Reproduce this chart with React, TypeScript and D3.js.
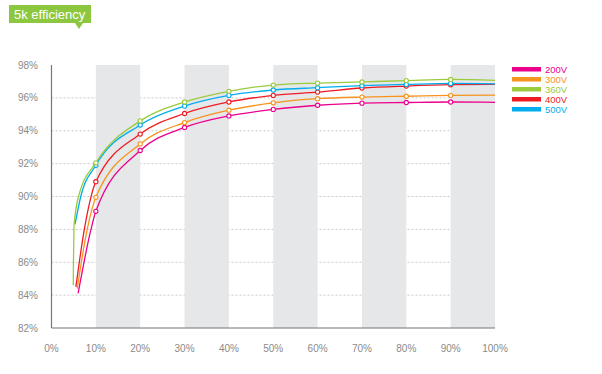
import React from 'react';
import * as d3 from 'd3';

// load (%) where the markers sit
const markerLoads = [10, 20, 30, 40, 50, 60, 70, 80, 90];
const yTicks = [82, 84, 86, 88, 90, 92, 94, 96, 98];
const xTicks = [0, 10, 20, 30, 40, 50, 60, 70, 80, 90, 100];
const bands = [10, 30, 50, 70, 90];

const names = ['200V', '300V', '360V', '400V', '500V'];
const colors = ['#ec008c', '#f7941d', '#9bcb3c', '#ed1c24', '#00aeef'];

// efficiency at the marker loads
const eff200 = [89.1, 92.8, 94.2, 94.9, 95.3, 95.55, 95.68, 95.72, 95.75];
const eff300 = [89.95, 93.2, 94.5, 95.25, 95.7, 95.95, 96.05, 96.1, 96.15];
const eff360 = [92.05, 94.6, 95.75, 96.4, 96.78, 96.9, 96.97, 97.05, 97.12];
const eff400 = [90.9, 93.8, 95.05, 95.75, 96.15, 96.35, 96.6, 96.72, 96.8];
const eff500 = [91.9, 94.35, 95.5, 96.15, 96.48, 96.62, 96.74, 96.82, 96.88];

// low-load part of each curve (unmarked) and value at 100%
const start200 = [[6.0, 84.1], [8.9, 88.0]];
const start300 = [[5.8, 84.4], [8.05, 88.0]];
const start360 = [[4.9, 84.6], [5.1, 88.3], [6.2, 90.1]];
const start400 = [[5.5, 84.5], [7.4, 88.0]];
const start500 = [[5.3, 88.3], [6.6, 90.0]];
const end100 = [95.73, 96.17, 97.07, 96.82, 96.85];

const effs = [eff200, eff300, eff360, eff400, eff500];
const starts = [start200, start300, start360, start400, start500];
const drawOrder = [0, 1, 3, 4, 2];

const W = 602;
const H = 374;
const margin = { top: 65, right: 107, bottom: 46, left: 51.5 };

export default function App() {
  const x = d3.scaleLinear().domain([0, 100]).range([margin.left, W - margin.right]);
  const y = d3.scaleLinear().domain([82, 98]).range([H - margin.bottom, margin.top]);

  const line = d3.line<number[]>()
    .x(d => x(d[0]))
    .y(d => y(d[1]))
    .curve(d3.curveMonotoneX);

  const series = names.map((name, i) => ({
    name,
    color: colors[i],
    pts: [
      ...starts[i],
      ...markerLoads.map((l, j) => [l, effs[i][j]]),
      [100, end100[i]],
    ],
    marks: markerLoads.map((l, j) => [l, effs[i][j]]),
  }));

  const font = '"Liberation Sans", Arial, sans-serif';

  return (
    <svg width={W} height={H} style={{ position: 'absolute', left: 0, top: 0 }} fontFamily={font}>
      <rect width={W} height={H} fill="#fff" />

      {/* title tag */}
      <rect x={9} y={5} width={82} height={18} fill="#8dc63f" />
      <path d="M75,23 L83,23 L79,29 Z" fill="#8dc63f" />
      <text x={14} y={19} fill="#fff" fontSize={13}>5k efficiency</text>

      {/* grid */}
      {yTicks.slice(1, -1).map(t => (
        <line key={t} x1={x(0)} x2={x(100)} y1={y(t)} y2={y(t)}
          stroke="#c8c8c8" strokeWidth={1} strokeDasharray="2,2" />
      ))}

      {bands.map(b => (
        <rect key={b} x={x(b)} y={y(98)} width={x(b + 10) - x(b)} height={y(82) - y(98)} fill="#e6e7e8" />
      ))}

      {/* axes */}
      <line x1={x(0)} x2={x(0)} y1={y(98)} y2={y(82)} stroke="#777" strokeWidth={1.2} />
      <line x1={x(0)} x2={x(100)} y1={y(82)} y2={y(82)} stroke="#777" strokeWidth={1.2} />

      {yTicks.map(t => (
        <text key={t} x={38} y={y(t) + 3.5} textAnchor="end" fontSize={10} fill="#8a8a8a">{t}%</text>
      ))}
      {xTicks.map(t => (
        <text key={t} x={x(t)} y={352} textAnchor="middle" fontSize={10} fill="#8a8a8a">{t}%</text>
      ))}

      {drawOrder.map(i => {
        const s = series[i];
        return (
          <g key={s.name}>
            <path d={line(s.pts as number[][]) || ''} fill="none" stroke={s.color} strokeWidth={1.3} />
            {s.marks.map(m => (
              <circle key={m[0]} cx={x(m[0])} cy={y(m[1])} r={2.1} fill="#fff" stroke={s.color} strokeWidth={1.1} />
            ))}
          </g>
        );
      })}

      {/* legend */}
      {series.map((s, i) => (
        <g key={s.name} transform={`translate(512,${69 + i * 10})`}>
          <rect x={0} y={-2} width={29} height={4.5} fill={s.color} />
          <text x={33} y={3.5} fontSize={9.5} fill={s.color}>{s.name}</text>
        </g>
      ))}
    </svg>
  );
}
